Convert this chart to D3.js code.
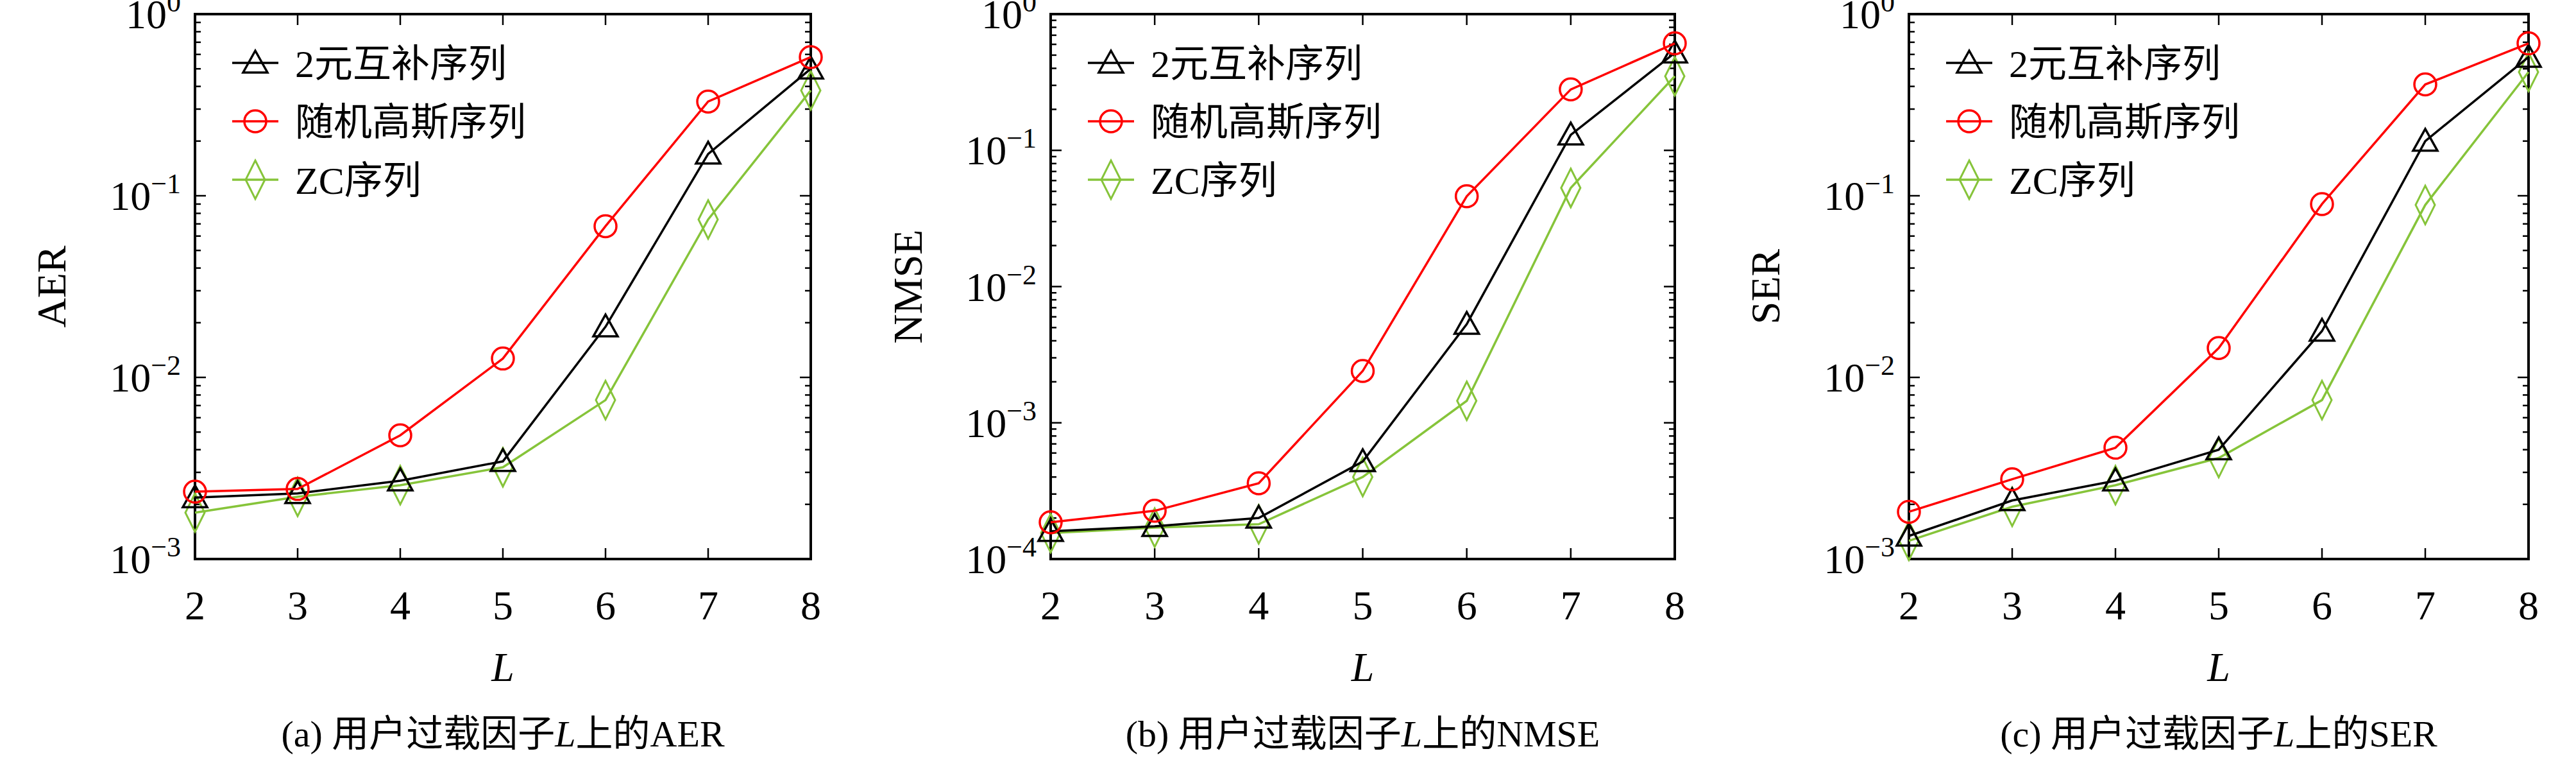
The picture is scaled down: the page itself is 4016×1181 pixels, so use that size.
<!DOCTYPE html>
<html>
<head>
<meta charset="UTF-8">
<script src="https://d3js.org/d3.v7.min.js"></script>
<style>
  body { margin: 0; background: #fff; }
  text { font-family: "Liberation Serif", "Noto Sans CJK SC", serif; fill: #000; }
</style>
</head>
<body>
<svg id="chart" width="4016" height="1181"></svg>
<script>
// x 轴: 用户过载因子 L
var L = [2, 3, 4, 5, 6, 7, 8];
var seriesNames = ["2元互补序列", "随机高斯序列", "ZC序列"];

var aerBinary = [2.18e-3, 2.3e-3, 2.7e-3, 3.45e-3, 1.9e-2, 0.17, 0.5];
var aerGauss  = [2.35e-3, 2.43e-3, 4.8e-3, 1.27e-2, 0.068, 0.33, 0.58];
var aerZC     = [1.8e-3, 2.2e-3, 2.55e-3, 3.2e-3, 7.5e-3, 0.074, 0.38];

var nmseBinary = [1.6e-4, 1.74e-4, 2.0e-4, 5.2e-4, 5.3e-3, 0.13, 0.52];
var nmseGauss  = [1.86e-4, 2.26e-4, 3.6e-4, 2.4e-3, 0.046, 0.28, 0.61];
var nmseZC     = [1.55e-4, 1.7e-4, 1.8e-4, 4.0e-4, 1.45e-3, 0.053, 0.35];

var serBinary = [1.34e-3, 2.1e-3, 2.7e-3, 4.0e-3, 1.8e-2, 0.2, 0.58];
var serGauss  = [1.82e-3, 2.75e-3, 4.1e-3, 1.45e-2, 0.09, 0.41, 0.69];
var serZC     = [1.26e-3, 1.94e-3, 2.55e-3, 3.6e-3, 7.5e-3, 0.089, 0.48];

var panels = [
  { tag: "(a)", name: "AER", left: 304, right: 1264, labelX: 80, minExp: -3, data: [aerBinary, aerGauss, aerZC] },
  { tag: "(b)", name: "NMSE", left: 1638, right: 2611, labelX: 1415, minExp: -4, data: [nmseBinary, nmseGauss, nmseZC] },
  { tag: "(c)", name: "SER", left: 2976, right: 3942, labelX: 2752, minExp: -3, data: [serBinary, serGauss, serZC] }
];

var colors = ["#000000", "#ff0000", "#86c43a"];
var plotTop = 22, plotBottom = 871;
var svg = d3.select("#chart");

function marker(g, type, color) {
  if (type === 0) {
    g.append("path").attr("d", "M0,-19L19,15L-19,15Z")
      .attr("fill", "none").attr("stroke", color).attr("stroke-width", 3.5);
  } else if (type === 1) {
    g.append("circle").attr("r", 17)
      .attr("fill", "none").attr("stroke", color).attr("stroke-width", 3.5);
  } else {
    g.append("path").attr("d", "M0,-30L15,0L0,30L-15,0Z")
      .attr("fill", "none").attr("stroke", color).attr("stroke-width", 3);
  }
}

panels.forEach(function(p) {
  var g = svg.append("g");
  var x = d3.scaleLinear().domain([2, 8]).range([p.left, p.right]);
  var y = d3.scaleLog().domain([Math.pow(10, p.minExp), 1]).range([plotBottom, plotTop]);

  // 主/次刻度
  var majors = d3.range(p.minExp, 1).map(function(e) { return Math.pow(10, e); });
  var minors = [];
  d3.range(p.minExp, 0).forEach(function(e) {
    for (var k = 2; k <= 9; k++) minors.push(k * Math.pow(10, e));
  });
  minors.forEach(function(v) {
    g.append("line").attr("x1", p.left).attr("x2", p.left + 9).attr("y1", y(v)).attr("y2", y(v)).attr("stroke", "#000").attr("stroke-width", 2.5);
    g.append("line").attr("x1", p.right).attr("x2", p.right - 9).attr("y1", y(v)).attr("y2", y(v)).attr("stroke", "#000").attr("stroke-width", 2.5);
  });
  majors.forEach(function(v, i) {
    g.append("line").attr("x1", p.left).attr("x2", p.left + 17).attr("y1", y(v)).attr("y2", y(v)).attr("stroke", "#000").attr("stroke-width", 2.5);
    g.append("line").attr("x1", p.right).attr("x2", p.right - 17).attr("y1", y(v)).attr("y2", y(v)).attr("stroke", "#000").attr("stroke-width", 2.5);
    var t = g.append("text").attr("x", p.left - 22).attr("y", y(v) + 22)
      .attr("text-anchor", "end").style("font-size", "64px");
    t.append("tspan").text("10");
    t.append("tspan").attr("dy", -26).style("font-size", "44px").text(i === majors.length - 1 ? "0" : "\u2212" + (-(p.minExp + i)));
  });
  L.forEach(function(v) {
    g.append("line").attr("x1", x(v)).attr("x2", x(v)).attr("y1", plotBottom).attr("y2", plotBottom - 17).attr("stroke", "#000").attr("stroke-width", 2.5);
    g.append("line").attr("x1", x(v)).attr("x2", x(v)).attr("y1", plotTop).attr("y2", plotTop + 17).attr("stroke", "#000").attr("stroke-width", 2.5);
    g.append("text").attr("x", x(v)).attr("y", plotBottom + 94).attr("text-anchor", "middle")
      .style("font-size", "64px").text(v);
  });
  g.append("rect").attr("x", p.left).attr("y", plotTop).attr("width", p.right - p.left).attr("height", plotBottom - plotTop)
    .attr("fill", "none").attr("stroke", "#000").attr("stroke-width", 4);

  // 曲线
  var line = d3.line().x(function(d, i) { return x(L[i]); }).y(function(d) { return y(d); });
  [2, 0, 1].forEach(function(s) {
    g.append("path").datum(p.data[s]).attr("d", line).attr("fill", "none")
      .attr("stroke", colors[s]).attr("stroke-width", 3.5);
    p.data[s].forEach(function(d, i) {
      marker(g.append("g").attr("transform", "translate(" + x(L[i]) + "," + y(d) + ")"), s, colors[s]);
    });
  });

  // 图例
  seriesNames.forEach(function(n, s) {
    var ly = 98 + s * 91;
    var lx = p.left + 58;
    g.append("line").attr("x1", lx).attr("x2", lx + 72).attr("y1", ly).attr("y2", ly).attr("stroke", colors[s]).attr("stroke-width", 3.5);
    marker(g.append("g").attr("transform", "translate(" + (lx + 36) + "," + ly + ")"), s, colors[s]);
    g.append("text").attr("x", lx + 98).attr("y", ly + 22).style("font-size", "60px").text(n);
  });

  // 轴标题
  g.append("text").attr("transform", "translate(" + (p.labelX + 22) + "," + ((plotTop + plotBottom) / 2) + ") rotate(-90)")
    .attr("text-anchor", "middle").style("font-size", "64px").text(p.name);
  g.append("text").attr("x", (p.left + p.right) / 2).attr("y", plotBottom + 190).attr("text-anchor", "middle")
    .style("font-size", "64px").style("font-style", "italic").text("L");
  var c = g.append("text").attr("x", (p.left + p.right) / 2).attr("y", 1163).attr("text-anchor", "middle").style("font-size", "58px");
  c.append("tspan").text(p.tag + " 用户过载因子");
  c.append("tspan").style("font-style", "italic").text("L");
  c.append("tspan").text("上的" + p.name);
});
</script>
</body>
</html>
